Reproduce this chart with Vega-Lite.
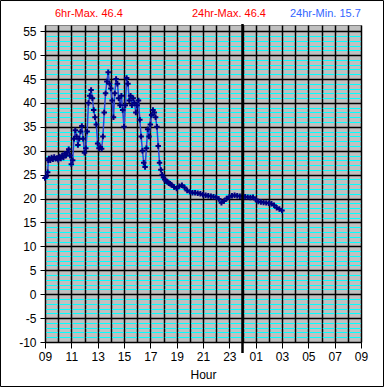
{
  "$schema": "https://vega.github.io/schema/vega-lite/v6.json",
  "width": 316,
  "height": 317,
  "autosize": {"type": "none"},
  "padding": {"left": 45, "top": 25, "right": 24, "bottom": 46},
  "background": "white",
  "config": {
    "view": {"fill": "#C0C0C0", "stroke": "#808080", "strokeWidth": 1},
    "axis": {
      "domainColor": "black",
      "tickColor": "black",
      "labelColor": "black",
      "titleColor": "black",
      "labelFont": "Liberation Sans",
      "titleFont": "Liberation Sans",
      "labelFontSize": 12,
      "titleFontSize": 12,
      "titleFontWeight": "normal"
    }
  },
  "data": {
    "values": [
      {"hour": 9.0, "temp": 24.3}, {"hour": 9.1, "temp": 24.6}, {"hour": 9.2, "temp": 25.5}, {"hour": 9.25, "temp": 28.0},
      {"hour": 9.3, "temp": 28.4}, {"hour": 9.4, "temp": 28.0}, {"hour": 9.5, "temp": 28.6}, {"hour": 9.6, "temp": 28.2},
      {"hour": 9.7, "temp": 28.7}, {"hour": 9.8, "temp": 28.3}, {"hour": 9.9, "temp": 28.5}, {"hour": 10.0, "temp": 28.1},
      {"hour": 10.1, "temp": 28.8}, {"hour": 10.2, "temp": 28.4}, {"hour": 10.3, "temp": 29.0}, {"hour": 10.4, "temp": 28.6},
      {"hour": 10.5, "temp": 29.4}, {"hour": 10.6, "temp": 29.0}, {"hour": 10.7, "temp": 29.6}, {"hour": 10.8, "temp": 30.3},
      {"hour": 10.9, "temp": 29.0}, {"hour": 11.0, "temp": 27.2}, {"hour": 11.1, "temp": 28.0}, {"hour": 11.2, "temp": 32.5},
      {"hour": 11.3, "temp": 34.3}, {"hour": 11.4, "temp": 33.0}, {"hour": 11.5, "temp": 31.2}, {"hour": 11.6, "temp": 32.5},
      {"hour": 11.7, "temp": 34.0}, {"hour": 11.8, "temp": 35.2}, {"hour": 11.9, "temp": 32.5}, {"hour": 12.0, "temp": 29.6},
      {"hour": 12.1, "temp": 30.5}, {"hour": 12.2, "temp": 34.0}, {"hour": 12.3, "temp": 40.0}, {"hour": 12.4, "temp": 41.5},
      {"hour": 12.5, "temp": 42.7}, {"hour": 12.6, "temp": 41.0}, {"hour": 12.7, "temp": 38.5}, {"hour": 12.8, "temp": 37.0},
      {"hour": 12.9, "temp": 35.5}, {"hour": 13.0, "temp": 31.5}, {"hour": 13.1, "temp": 30.5}, {"hour": 13.2, "temp": 30.8},
      {"hour": 13.3, "temp": 30.4}, {"hour": 13.4, "temp": 33.0}, {"hour": 13.5, "temp": 38.0}, {"hour": 13.6, "temp": 42.0},
      {"hour": 13.7, "temp": 44.5}, {"hour": 13.8, "temp": 46.4}, {"hour": 13.9, "temp": 44.0}, {"hour": 14.0, "temp": 43.0},
      {"hour": 14.1, "temp": 40.5}, {"hour": 14.2, "temp": 37.0}, {"hour": 14.3, "temp": 42.0}, {"hour": 14.4, "temp": 45.0},
      {"hour": 14.5, "temp": 44.0}, {"hour": 14.6, "temp": 41.0}, {"hour": 14.7, "temp": 39.5}, {"hour": 14.8, "temp": 41.5},
      {"hour": 14.9, "temp": 38.5}, {"hour": 15.0, "temp": 35.0}, {"hour": 15.1, "temp": 39.5}, {"hour": 15.2, "temp": 45.2},
      {"hour": 15.3, "temp": 44.0}, {"hour": 15.4, "temp": 40.5}, {"hour": 15.5, "temp": 41.5}, {"hour": 15.6, "temp": 39.5},
      {"hour": 15.7, "temp": 41.0}, {"hour": 15.8, "temp": 40.0}, {"hour": 15.9, "temp": 38.0}, {"hour": 16.0, "temp": 39.5},
      {"hour": 16.1, "temp": 40.5}, {"hour": 16.2, "temp": 36.5}, {"hour": 16.3, "temp": 33.0}, {"hour": 16.4, "temp": 30.0},
      {"hour": 16.5, "temp": 27.5}, {"hour": 16.6, "temp": 26.6}, {"hour": 16.7, "temp": 30.5}, {"hour": 16.8, "temp": 34.5},
      {"hour": 16.9, "temp": 33.0}, {"hour": 17.0, "temp": 35.5}, {"hour": 17.1, "temp": 37.5}, {"hour": 17.2, "temp": 38.5},
      {"hour": 17.3, "temp": 38.0}, {"hour": 17.4, "temp": 37.0}, {"hour": 17.5, "temp": 35.0}, {"hour": 17.6, "temp": 31.0},
      {"hour": 17.7, "temp": 27.5}, {"hour": 17.8, "temp": 26.0}, {"hour": 17.9, "temp": 25.0}, {"hour": 18.0, "temp": 24.4},
      {"hour": 18.1, "temp": 24.0}, {"hour": 18.2, "temp": 23.6}, {"hour": 18.3, "temp": 23.5}, {"hour": 18.4, "temp": 23.2},
      {"hour": 18.5, "temp": 23.1}, {"hour": 18.6, "temp": 22.9}, {"hour": 18.8, "temp": 22.4}, {"hour": 19.0, "temp": 22.1},
      {"hour": 19.2, "temp": 22.6}, {"hour": 19.4, "temp": 22.8}, {"hour": 19.6, "temp": 22.3}, {"hour": 19.8, "temp": 21.7},
      {"hour": 20.0, "temp": 21.4}, {"hour": 20.2, "temp": 21.2}, {"hour": 20.4, "temp": 21.2}, {"hour": 20.6, "temp": 21.1},
      {"hour": 20.8, "temp": 21.0}, {"hour": 21.0, "temp": 20.8}, {"hour": 21.2, "temp": 20.7}, {"hour": 21.4, "temp": 20.6},
      {"hour": 21.6, "temp": 20.5}, {"hour": 21.8, "temp": 20.4}, {"hour": 22.0, "temp": 20.3}, {"hour": 22.2, "temp": 19.9},
      {"hour": 22.4, "temp": 19.1}, {"hour": 22.6, "temp": 19.5}, {"hour": 22.8, "temp": 20.0}, {"hour": 23.0, "temp": 20.4},
      {"hour": 23.2, "temp": 20.6}, {"hour": 23.4, "temp": 20.7}, {"hour": 23.6, "temp": 20.6}, {"hour": 23.8, "temp": 20.5},
      {"hour": 24.0, "temp": 20.5}, {"hour": 24.2, "temp": 20.4}, {"hour": 24.4, "temp": 20.3}, {"hour": 24.6, "temp": 20.2},
      {"hour": 24.8, "temp": 20.3}, {"hour": 25.0, "temp": 19.8}, {"hour": 25.2, "temp": 19.4}, {"hour": 25.4, "temp": 19.3},
      {"hour": 25.6, "temp": 19.2}, {"hour": 25.8, "temp": 19.1}, {"hour": 26.0, "temp": 19.0}, {"hour": 26.2, "temp": 18.9},
      {"hour": 26.4, "temp": 18.6}, {"hour": 26.6, "temp": 18.1}, {"hour": 26.8, "temp": 17.8}, {"hour": 27.0, "temp": 17.5}
    ]
  },
  "layer": [
    {
      "mark": {"type": "line", "color": "#2a46d0", "strokeWidth": 1.5},
      "encoding": {
        "x": {
          "field": "hour",
          "type": "quantitative",
          "scale": {"domain": [9, 33], "nice": false, "zero": false},
          "axis": {
            "values": [9,10,11,12,13,14,15,16,17,18,19,20,21,22,23,24,25,26,27,28,29,30,31,32,33],
            "tickCount": 200,
            "title": "Hour",
            "grid": true,
            "gridColor": "black",
            "gridWidth": 1.5,
            "tickSize": 6,
            "tickWidth": 1,
            "tickOpacity": {"condition": {"test": "datum.value % 2 == 1", "value": 1}, "value": 0},
            "labelExpr": "datum.value % 2 == 1 ? ((datum.value % 24) < 10 ? '0' : '') + (datum.value % 24) : ''",
            "labelFont": "Liberation Sans Narrow, Liberation Sans",
            "labelFlush": false,
            "labelOverlap": false,
            "labelPadding": 3,
            "titlePadding": 7
          }
        },
        "y": {
          "field": "temp",
          "type": "quantitative",
          "scale": {"domain": [-10, 56.3], "nice": false, "zero": false},
          "axis": {
            "values": [-10,-9,-8,-7,-6,-5,-4,-3,-2,-1,0,1,2,3,4,5,6,7,8,9,10,11,12,13,14,15,16,17,18,19,20,21,22,23,24,25,26,27,28,29,30,31,32,33,34,35,36,37,38,39,40,41,42,43,44,45,46,47,48,49,50,51,52,53,54,55],
            "tickCount": 200,
            "title": null,
            "grid": true,
            "gridColor": {"condition": {"test": "datum.value % 5 == 0", "value": "black"}, "value": "#00FFFF"},
            "gridWidth": {"condition": {"test": "datum.value % 5 == 0", "value": 1.5}, "value": 1},
            "gridDash": {"condition": {"test": "datum.value % 5 == 0", "value": []}, "value": [11.6667, 1.5]},
            "gridDashOffset": 12.4167,
            "tickSize": 5,
            "tickOpacity": {"condition": {"test": "datum.value % 5 == 0", "value": 1}, "value": 0},
            "labelExpr": "datum.value % 5 == 0 ? '' + datum.value : ''",
            "labelOverlap": false,
            "labelFlush": false,
            "labelPadding": 4
          }
        }
      }
    },
    {
      "mark": {"type": "point", "shape": "M-1,0H1M0,-1V1", "filled": false, "color": "#000080", "size": 30, "strokeWidth": 2, "opacity": 1},
      "encoding": {
        "x": {"field": "hour", "type": "quantitative"},
        "y": {"field": "temp", "type": "quantitative"}
      }
    },
    {
      "data": {"values": [{}]},
      "mark": {"type": "rule", "color": "black", "strokeWidth": 2.5},
      "encoding": {"x": {"datum": 24}, "y": {"datum": 56.5}, "y2": {"datum": -12.3}}
    },
    {
      "data": {"values": [{"t": "6hr-Max. 46.4"}]},
      "mark": {"type": "text", "align": "left", "baseline": "middle", "color": "#FF0000", "font": "Liberation Sans", "fontSize": 11},
      "encoding": {"x": {"datum": 9.76}, "y": {"datum": 58.6}, "text": {"field": "t"}}
    },
    {
      "data": {"values": [{"t": "24hr-Max. 46.4"}]},
      "mark": {"type": "text", "align": "left", "baseline": "middle", "color": "#FF0000", "font": "Liberation Sans", "fontSize": 11},
      "encoding": {"x": {"datum": 20.16}, "y": {"datum": 58.6}, "text": {"field": "t"}}
    },
    {
      "data": {"values": [{"t": "24hr-Min. 15.7"}]},
      "mark": {"type": "text", "align": "left", "baseline": "middle", "color": "#3366FF", "font": "Liberation Sans", "fontSize": 11},
      "encoding": {"x": {"datum": 27.6}, "y": {"datum": 58.6}, "text": {"field": "t"}}
    },
    {
      "data": {"values": [{}]},
      "mark": {"type": "rect", "fillOpacity": 0, "stroke": "black", "strokeWidth": 1},
      "encoding": {"x": {"datum": 5.62}, "x2": {"datum": 34.71}, "y": {"datum": 61.42}, "y2": {"datum": -19.31}}
    }
  ]
}
